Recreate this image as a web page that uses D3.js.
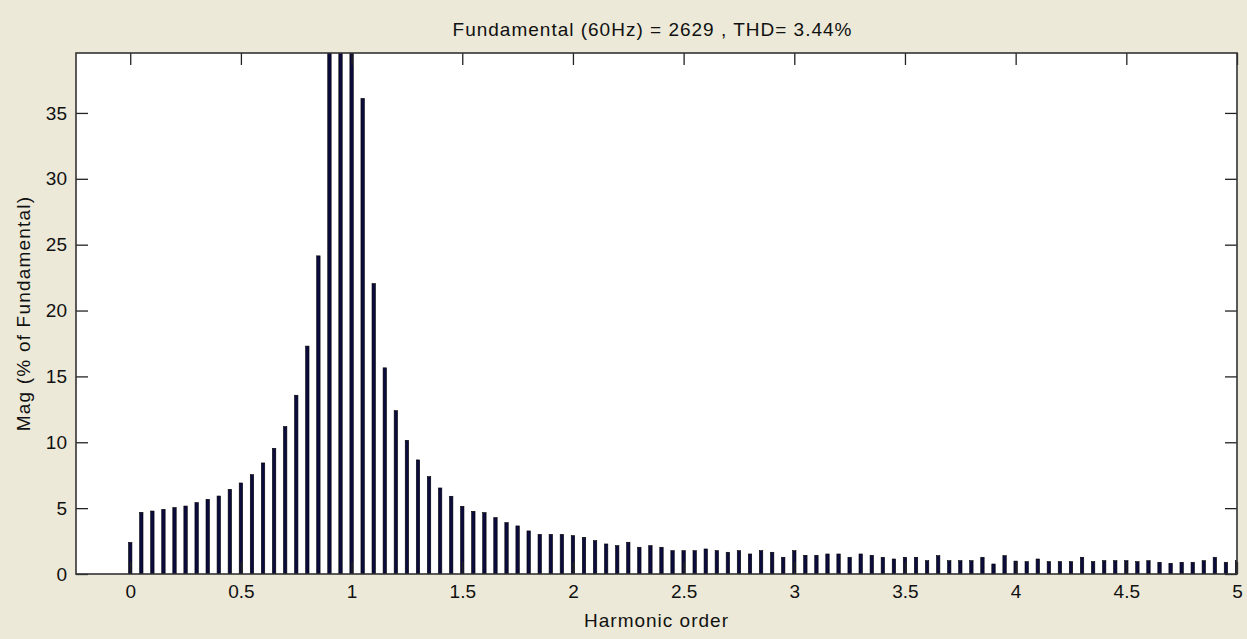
<!DOCTYPE html>
<html>
<head>
<meta charset="utf-8">
<script src="https://cdn.jsdelivr.net/npm/d3@7"></script>
<style>
  html, body { margin: 0; padding: 0; background: #ECE9D8; }
  svg { display: block; }
  text { font-family: "Liberation Sans", Arial, sans-serif; fill: #111; }
</style>
</head>
<body>
<svg id="chart" width="1247" height="639"></svg>
<script>
// ---- data ----
const harmonicOrders = d3.range(0, 101).map(i => +(i * 0.05).toFixed(2));
const magnitudes = [
  2.4, 4.68, 4.78, 4.91, 5.04, 5.16, 5.42, 5.67, 5.92, 6.43,
  6.91, 7.54, 8.43, 9.54, 11.19, 13.57, 17.3, 24.15, 42, 65,
  100, 36.1, 22.05, 15.65, 12.4, 10.15, 8.66, 7.39, 6.53, 5.9,
  5.14, 4.76, 4.66, 4.28, 3.9, 3.65, 3.27, 3.01, 3.01, 3.01,
  2.91, 2.78, 2.53, 2.28, 2.15, 2.41, 2.03, 2.15, 2.03, 1.77,
  1.77, 1.77, 1.9, 1.77, 1.65, 1.77, 1.52, 1.77, 1.65, 1.27,
  1.77, 1.42, 1.42, 1.52, 1.52, 1.27, 1.52, 1.42, 1.27, 1.14,
  1.27, 1.27, 1.01, 1.39, 1.01, 1.01, 1.01, 1.27, 0.76, 1.39,
  0.98, 0.94, 1.14, 0.94, 0.94, 0.94, 1.27, 0.94, 1.01, 1.01,
  1.01, 0.94, 1.01, 0.89, 0.81, 0.89, 0.89, 1.01, 1.27, 0.89,
  1.01
];
const xTicks = [0, 0.5, 1, 1.5, 2, 2.5, 3, 3.5, 4, 4.5, 5];
const yTicks = [0, 5, 10, 15, 20, 25, 30, 35];
const titleText = "Fundamental (60Hz) = 2629 , THD= 3.44%";
const xLabel = "Harmonic order";
const yLabel = "Mag (% of Fundamental)";

// ---- layout ----
const svg = d3.select("#chart");
const L = 76, R = 1237, T = 53, B = 574;
const x = d3.scaleLinear().domain([-0.245, 5]).range([L, R]);
const y = d3.scaleLinear().domain([0, 39.55]).range([B, T]);

svg.append("rect").attr("x", 0).attr("y", 0).attr("width", 1247).attr("height", 639).attr("fill", "#ECE9D8");
svg.append("rect").attr("x", L).attr("y", T).attr("width", R - L).attr("height", B - T).attr("fill", "#ffffff");

svg.append("defs").append("clipPath").attr("id", "clip")
  .append("rect").attr("x", L).attr("y", T).attr("width", R - L).attr("height", B - T);

const data = harmonicOrders.map((h, i) => ({ h, v: magnitudes[i] }));
const bw = 3.4;
svg.append("g").attr("clip-path", "url(#clip)")
  .selectAll("rect").data(data).join("rect")
  .attr("x", d => x(d.h) - bw / 2)
  .attr("y", d => y(d.v))
  .attr("width", bw)
  .attr("height", d => B - y(d.v))
  .attr("fill", "#0b0b3e")
  .attr("stroke", "#000")
  .attr("stroke-width", 0.6);

const tickLen = 12;
const fontSize = 19;
// bottom axis
const xb = svg.append("g").attr("transform", `translate(0,${B})`)
  .call(d3.axisBottom(x).tickValues(xTicks).tickSizeInner(-tickLen).tickSizeOuter(0).tickPadding(11).tickFormat(d3.format("")));
// top axis (ticks only)
const xt = svg.append("g").attr("transform", `translate(0,${T})`)
  .call(d3.axisTop(x).tickValues(xTicks).tickSizeInner(-tickLen).tickSizeOuter(0).tickFormat(""));
// left axis
const yl = svg.append("g").attr("transform", `translate(${L},0)`)
  .call(d3.axisLeft(y).tickValues(yTicks).tickSizeInner(-tickLen).tickSizeOuter(0).tickPadding(9));
// right axis
const yr = svg.append("g").attr("transform", `translate(${R},0)`)
  .call(d3.axisRight(y).tickValues(yTicks).tickSizeInner(-tickLen).tickSizeOuter(0).tickFormat(""));

[xb, xt, yl, yr].forEach(g => {
  g.select(".domain").remove();
  g.selectAll(".tick line").attr("stroke", "#222").attr("stroke-width", 1.3);
  g.selectAll("text").attr("font-size", fontSize).attr("fill", "#222")
    .attr("font-family", "'Liberation Sans', Arial, sans-serif");
});

// frame
svg.append("rect").attr("x", L).attr("y", T).attr("width", R - L).attr("height", B - T)
  .attr("fill", "none").attr("stroke", "#333").attr("stroke-width", 1.6);

// title & labels
svg.append("text").attr("x", (L + R) / 2 - 4).attr("y", 36).attr("text-anchor", "middle")
  .attr("font-size", 19).attr("letter-spacing", 1).attr("fill", "#222").text(titleText);
svg.append("text").attr("x", (L + R) / 2).attr("y", 627).attr("text-anchor", "middle")
  .attr("font-size", 19).attr("letter-spacing", 1).attr("fill", "#222").text(xLabel);
svg.append("text").attr("transform", `translate(30,${(T + B) / 2}) rotate(-90)`).attr("text-anchor", "middle")
  .attr("font-size", 19).attr("letter-spacing", 1.2).attr("fill", "#222").text(yLabel);
</script>
</body>
</html>
